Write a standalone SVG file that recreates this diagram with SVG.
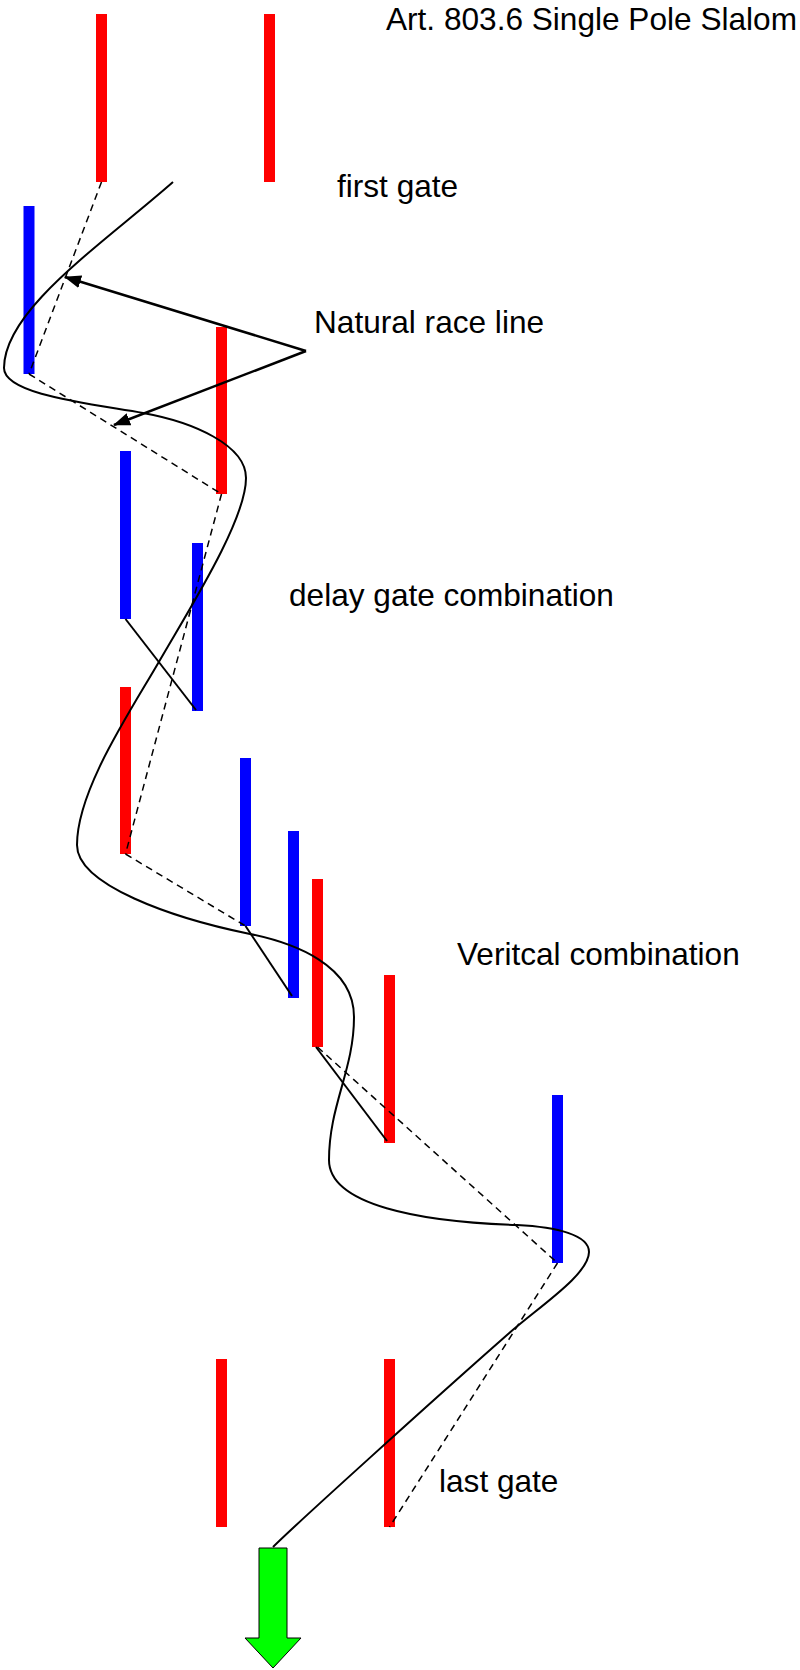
<svg xmlns="http://www.w3.org/2000/svg" width="800" height="1670" viewBox="0 0 800 1670">
<style>
.red{fill:#FF0000}
.blue{fill:#0000FF}
.lbl{font-family:"Liberation Sans",Arial,sans-serif;font-size:31.6px;fill:#000}
.dash{stroke:#000;stroke-width:1.5;stroke-dasharray:7,5;fill:none}
.solid{stroke:#000;stroke-width:2;fill:none}
.arr{stroke:#000;stroke-width:2.5;fill:none}
</style>
<defs>
<marker id="ah" markerWidth="17" markerHeight="13" refX="16" refY="6.5" orient="auto" markerUnits="userSpaceOnUse">
<path d="M0,0 L17,6.5 L0,13 z" fill="#000"/>
</marker>
</defs>
<rect width="800" height="1670" fill="#fff"/>
<g id="poles">
<rect id="gateA" class="red" x="96" y="14" width="11" height="168"/>
<rect id="gateB" class="red" x="264" y="14" width="11" height="168"/>
<rect id="poleC" class="blue" x="23.5" y="206" width="11" height="168"/>
<rect id="poleN" class="red" x="216" y="327" width="11" height="167"/>
<rect id="poleD" class="blue" x="120" y="451" width="11" height="168"/>
<rect id="poleE" class="blue" x="192" y="543" width="11" height="168"/>
<rect id="poleF" class="red" x="120" y="687" width="11" height="167"/>
<rect id="poleG" class="blue" x="240" y="758" width="11" height="168"/>
<rect id="poleH" class="blue" x="288" y="831" width="11" height="167"/>
<rect id="poleI" class="red" x="312" y="879" width="11" height="168"/>
<rect id="poleJ" class="red" x="384" y="975" width="11" height="168"/>
<rect id="poleK" class="blue" x="552" y="1095" width="11" height="168"/>
<rect id="gateL" class="red" x="216" y="1359" width="11" height="168"/>
<rect id="gateM" class="red" x="384" y="1359" width="11" height="168"/>
</g>
<g id="connectors">
<path class="dash" d="M101.5,182 L29,374"/>
<path class="dash" d="M29,374 L221.5,494"/>
<path class="dash" d="M221.5,494 L125.5,854"/>
<path class="dash" d="M125.5,854 L245.5,926"/>
<path class="dash" d="M317.5,1047 L557.5,1263"/>
<path class="dash" d="M557.5,1263 L389.5,1527"/>
<path class="solid" d="M125.5,619 L196,710"/>
<path class="solid" d="M245.5,926 L292,996"/>
<path class="solid" d="M316,1047 L387,1141"/>
<path id="raceline" class="solid" d="M173,182 C100,246 4,310 4,368 C4,395 93,404 143,413 C193,422 246,445 246,478 C246,520 190,608 160,660 C130,712 77,790 77,845 C77,885 172,918 250,934 C294,943 354,965 354,1017 C354,1070 329,1105 329,1160 C329,1205 420,1222 517,1225 C557,1227 589,1235 589,1252 C589,1275 537,1308 507,1335 C432,1401 294,1526 273,1547"/>
<path class="arr" d="M306,351 L65,277" marker-end="url(#ah)"/>
<path class="arr" d="M306,351 L114,425" marker-end="url(#ah)"/>
</g>
<g id="finish">
<polygon points="259,1548 287,1548 287,1638 301,1638 273,1668 245,1638 259,1638" fill="#00FF00" stroke="#000" stroke-width="1"/>
</g>
<g id="labels">
<text class="lbl" x="386" y="30">Art. 803.6 Single Pole Slalom</text>
<text class="lbl" x="337" y="197">first gate</text>
<text class="lbl" x="314" y="333">Natural race line</text>
<text class="lbl" x="289" y="606">delay gate combination</text>
<text class="lbl" x="457" y="965">Veritcal combination</text>
<text class="lbl" x="439" y="1492">last gate</text>
</g>
</svg>
